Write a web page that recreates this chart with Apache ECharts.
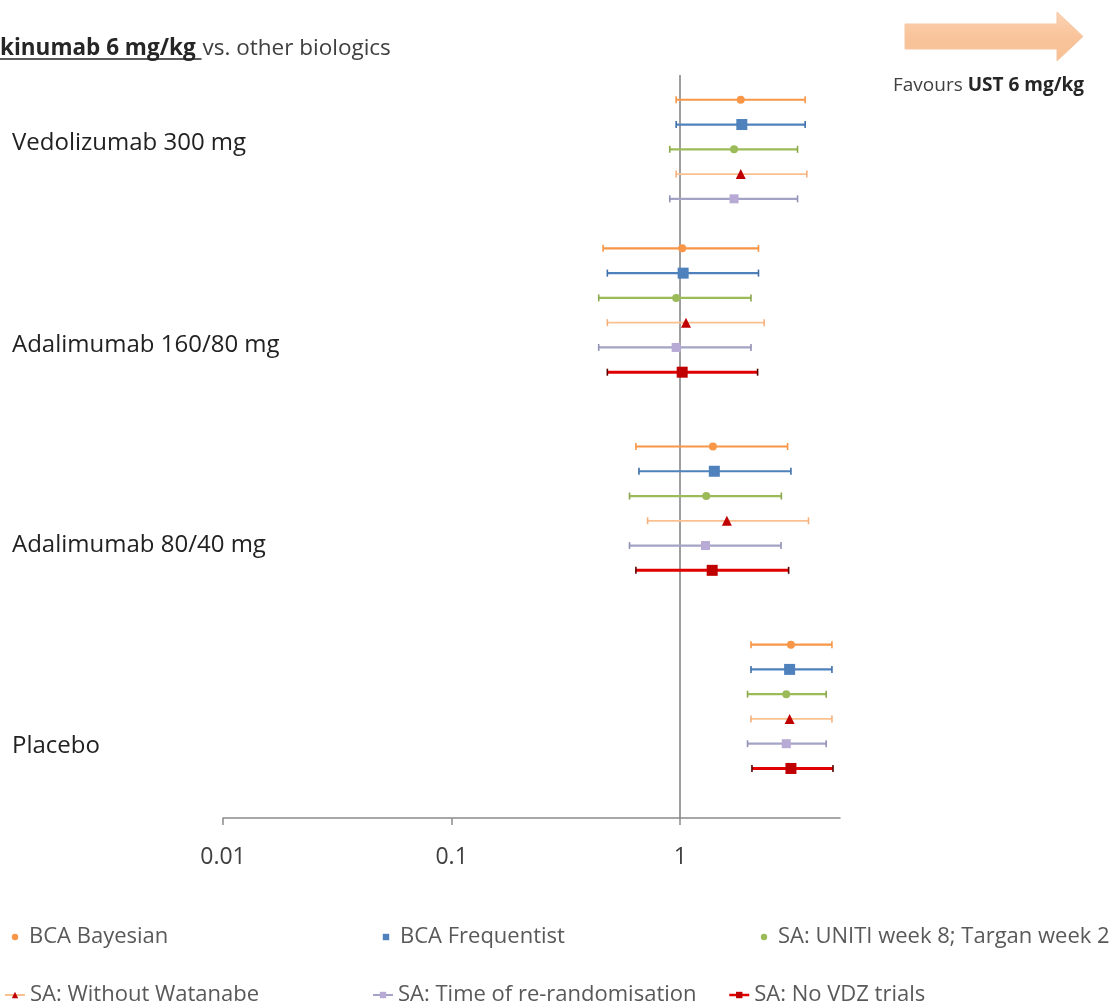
<!DOCTYPE html>
<html>
<head>
<meta charset="utf-8">
<script src="https://cdn.jsdelivr.net/npm/echarts@6/dist/echarts.min.js"></script>
<style>
  html, body { margin: 0; padding: 0; background: #ffffff; }
  #chart { width: 1119px; height: 1007px; }
</style>
</head>
<body>
<div id="chart"></div>
<script>
// Comparators, top to bottom
const groups = ['Vedolizumab 300 mg', 'Adalimumab 160/80 mg', 'Adalimumab 80/40 mg', 'Placebo'];

// Analyses (one row per analysis inside each comparator block)
const analysisNames = [
  'BCA Bayesian',
  'BCA Frequentist',
  'SA: UNITI week 8; Targan week 2',
  'SA: Without Watanabe',
  'SA: Time of re-randomisation',
  'SA: No VDZ trials'
];

// Odds ratio [estimate, lower, upper] per comparator (null = analysis not available)
const bcaBayesian    = [[1.84, 0.96, 3.52], [1.02, 0.46, 2.20], [1.39, 0.64, 2.95], [3.05, 2.04, 4.61]];
const bcaFrequentist = [[1.86, 0.96, 3.52], [1.03, 0.48, 2.20], [1.41, 0.66, 3.05], [3.01, 2.04, 4.61]];
const saUniti        = [[1.72, 0.90, 3.26], [0.96, 0.44, 2.04], [1.30, 0.60, 2.77], [2.91, 1.97, 4.35]];
const saNoWatanabe   = [[1.84, 0.96, 3.58], [1.06, 0.48, 2.33], [1.60, 0.72, 3.64], [3.01, 2.04, 4.61]];
const saRerandom     = [[1.72, 0.90, 3.26], [0.96, 0.44, 2.04], [1.29, 0.60, 2.76], [2.91, 1.97, 4.35]];
const saNoVdz        = [null,               [1.02, 0.48, 2.18], [1.38, 0.64, 2.98], [3.05, 2.06, 4.66]];

const allAnalyses = [bcaBayesian, bcaFrequentist, saUniti, saNoWatanabe, saRerandom, saNoVdz];

// Log-scale tick labels
const xTicks = [0.01, 0.1, 1];

// ---- layout (row slots on the hidden vertical axis) ----
const groupSlot = [0, 6, 14, 22];
const labelSlot = [1.75, 9.9, 18, 26.1];

const FONT = '"Open Sans", "Noto Sans", sans-serif';

const looks = [
  { line: '#F79646', width: 2.2, cap: '#F79646', symbol: 'circle',   size: 8,  color: '#F79646' },
  { line: '#4F81BD', width: 2.2, cap: '#3F6FA8', symbol: 'rect',     size: 11, color: '#4F81BD' },
  { line: '#9BBB59', width: 2.2, cap: '#8AA84C', symbol: 'circle',   size: 8,  color: '#9BBB59' },
  { line: '#FAC090', width: 1.8, cap: '#F5B07C', symbol: 'triangle', size: 10, color: '#C00000' },
  { line: '#A3A3C6', width: 2.2, cap: '#9393B8', symbol: 'rect',     size: 9,  color: '#B7AAD4' },
  { line: '#E00000', width: 3,   cap: '#5A0000', symbol: 'rect',     size: 11, color: '#C00000' }
];

function rowsFor(values, k) {
  const rows = [];
  values.forEach(function (v, g) {
    if (v) rows.push([v[0], v[1], v[2], groupSlot[g] + k]);
  });
  return rows;
}

function errorBar(look) {
  return function (params, api) {
    const a = api.coord([api.value(1), api.value(3)]);
    const b = api.coord([api.value(2), api.value(3)]);
    const y = a[1];
    const h = 3.5;
    return {
      type: 'group',
      children: [
        { type: 'line', shape: { x1: a[0], y1: y, x2: b[0], y2: y },
          style: { stroke: look.line, lineWidth: look.width } },
        { type: 'line', shape: { x1: a[0], y1: y - h, x2: a[0], y2: y + h },
          style: { stroke: look.cap, lineWidth: 1.6 } },
        { type: 'line', shape: { x1: b[0], y1: y - h, x2: b[0], y2: y + h },
          style: { stroke: look.cap, lineWidth: 1.6 } }
      ]
    };
  };
}

const series = [];
analysisNames.forEach(function (name, k) {
  const look = looks[k];
  const rows = rowsFor(allAnalyses[k], k);
  // point estimates (also supply the legend symbol)
  series.push({
    name: name,
    type: 'line',
    data: rows.map(function (r) { return [r[0], r[3]]; }),
    symbol: look.symbol,
    symbolSize: look.size,
    itemStyle: { color: look.color },
    lineStyle: { width: 0, opacity: 0, color: look.line },
    z: 5,
    silent: true,
    animation: false
  });
});
analysisNames.forEach(function (name, k) {
  const look = looks[k];
  series.push({
    name: name,
    type: 'custom',
    renderItem: errorBar(look),
    data: rowsFor(allAnalyses[k], k),
    encode: { x: [0, 1, 2], y: 3 },
    itemStyle: { color: look.color },
    z: 3,
    silent: true,
    animation: false,
    markLine: k === 0 ? {
      silent: true,
      symbol: 'none',
      label: { show: false },
      lineStyle: { color: '#7F7F7F', width: 1.5, type: 'solid' },
      data: [{ xAxis: 1 }],
      animation: false,
      z: 2
    } : undefined
  });
});

// legend placement: [left, text-centre y, icon width]
const legendSpots = [
  [6, 937, 18], [377, 937, 18], [755, 937, 18],
  [4, 995, 20], [372, 995, 20], [728, 995, 20]
];
const legends = analysisNames.map(function (name, k) {
  const spot = legendSpots[k];
  const withLine = k >= 3;
  const item = { name: name };
  if (withLine) {
    item.lineStyle = { color: looks[k].line, width: k === 5 ? 2.5 : 2, opacity: 1 };
  }
  return {
    left: spot[0],
    top: spot[1] - 11,
    itemWidth: spot[2],
    itemHeight: 8,
    selectedMode: false,
    padding: 0,
    data: [item],
    textStyle: { fontFamily: FONT, fontSize: 22, color: '#595959' }
  };
});

const chart = echarts.init(document.getElementById('chart'), null, { renderer: 'canvas' });

chart.setOption({
  backgroundColor: '#ffffff',
  animation: false,
  grid: { left: 223, right: 279, top: 75, bottom: 189 },
  xAxis: {
    type: 'log',
    logBase: 10,
    min: 0.01,
    max: 5,
    position: 'bottom',
    axisLine: { show: true, onZero: false, lineStyle: { color: '#8C8C8C', width: 1.5 } },
    axisTick: { show: true, length: 7, inside: false, customValues: xTicks,
                lineStyle: { color: '#8C8C8C', width: 1.5 } },
    axisLabel: { customValues: xTicks, fontFamily: FONT, fontSize: 23, color: '#404040', margin: 28,
                 formatter: function (v) { return String(+v.toPrecision(6)); } },
    splitLine: { show: false },
    minorTick: { show: false }
  },
  yAxis: {
    type: 'value',
    inverse: true,
    min: -1,
    max: 29,
    show: false,
    splitLine: { show: false }
  },
  legend: legends,
  series: series
});

// ---- text and decoration around the plot ----
function textWidth(str, font) {
  const ctx = document.createElement('canvas').getContext('2d');
  ctx.font = font;
  return ctx.measureText(str).width;
}

const titleBold = 'kinumab 6 mg/kg ';
const titleRest = 'vs. other biologics';
const titleSize = 22.5;
const boldW = textWidth(titleBold, 'bold ' + titleSize + 'px ' + FONT);

const favNormal = 'Favours ';
const favBold = 'UST 6 mg/kg';
const favSize = 19;
const favNormalW = textWidth(favNormal, favSize + 'px ' + FONT);

const labelEls = groups.map(function (g, i) {
  const y = chart.convertToPixel({ yAxisIndex: 0 }, labelSlot[i]);
  return {
    type: 'text',
    left: 12,
    top: y - 12,
    style: { text: g, fontFamily: FONT, fontSize: 24, fill: '#222222' }
  };
});

chart.setOption({
  graphic: [
    {
      type: 'text', left: 0, top: 37,
      style: { text: titleBold, fontFamily: FONT, fontSize: titleSize, fontWeight: 'bold', fill: '#262626' }
    },
    {
      type: 'line', shape: { x1: 0, y1: 59, x2: boldW, y2: 59 },
      style: { stroke: '#262626', lineWidth: 1.6 }
    },
    {
      type: 'text', left: boldW + 1, top: 37,
      style: { text: titleRest, fontFamily: FONT, fontSize: titleSize, fill: '#404040' }
    },
    {
      type: 'polygon',
      shape: { points: [[905, 24], [1057, 24], [1057, 12], [1083, 36.5], [1057, 61], [1057, 49], [905, 49]] },
      style: {
        fill: new echarts.graphic.LinearGradient(0, 0, 0, 1, [
          { offset: 0, color: '#FBD3B4' },
          { offset: 0.5, color: '#F9C49B' },
          { offset: 1, color: '#F8BF93' }
        ]),
        stroke: '#F7C6A2', lineWidth: 1
      }
    },
    {
      type: 'text', left: 893, top: 76,
      style: { text: favNormal, fontFamily: FONT, fontSize: favSize, fill: '#404040' }
    },
    {
      type: 'text', left: 893 + favNormalW, top: 76,
      style: { text: favBold, fontFamily: FONT, fontSize: favSize, fontWeight: 'bold', fill: '#262626' }
    }
  ].concat(labelEls)
});
</script>
</body>
</html>
